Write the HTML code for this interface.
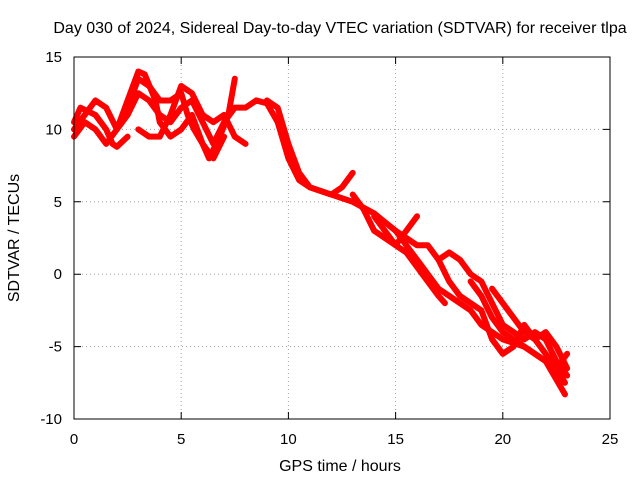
<!DOCTYPE html>
<html><head><meta charset="utf-8"><style>
body{margin:0;background:#fff;}
svg{display:block;font-family:"Liberation Sans",sans-serif;}
</style></head><body>
<svg id="chart" width="640" height="480">
<text x="340" y="33" text-anchor="middle" font-size="16">Day 030 of 2024, Sidereal Day-to-day VTEC variation (SDTVAR) for receiver tlpa</text>
<text x="340" y="471" text-anchor="middle" font-size="16">GPS time / hours</text>
<text transform="translate(19,238) rotate(-90)" text-anchor="middle" font-size="16">SDTVAR / TECUs</text>
<g id="grid"></g><g id="ticks"></g><g id="series"></g>
<rect x="74" y="57" width="536" height="362" fill="none" stroke="#000" stroke-width="1"/>
</svg>
<script>
const xTicks=[0,5,10,15,20,25];
const yTicks=[-10,-5,0,5,10,15];
const s1=[[0,10],[0.5,11],[1,12],[1.5,11.5],[2,10],[2.5,11],[3,12.5],[3.5,12],[4,11],[4.5,10.5],[5,11.5],[5.5,12],[6,10.5],[6.5,9],[7,10.5],[7.5,11.5],[8,11.5],[8.5,12],[9,11.8],[9.5,10.5],[10,8],[10.5,6.5],[11,6],[12,5.5],[13,5],[14,4.2],[15,3],[15.5,2],[16,1],[16.5,0],[17,-1],[17.5,-1.5],[18,-2],[18.5,-2.5],[19,-3.5],[20,-4.5],[21,-5],[22,-6],[22.9,-8.3]];
const s2=[[0,9.5],[0.5,10.5],[1,10],[1.5,9],[2,10],[2.5,12],[3,14],[3.3,13.8],[3.8,12],[4,10.5],[4.5,9.5],[5,10],[5.5,11],[6,9],[6.3,8],[6.8,9.5],[7.2,11],[7.5,13.5]];
const s3=[[3,10],[3.5,9.5],[4,9.5],[4.5,11],[5,13],[5.5,12.5],[6,11],[6.5,10.5],[7,11],[7.5,9.5],[8,9]];
const s4=[[2.5,11.5],[3,13.5],[3.5,13],[4,12],[4.5,12],[5,12.5],[5.3,11],[5.6,10],[6,9],[6.5,8],[7,9.5]];
const s5=[[0,10.5],[0.3,11.5],[1,11],[1.5,10],[1.8,9],[2,8.8],[2.5,9.5]];
const s6=[[9,12],[9.5,11.5],[10,9],[10.5,7],[11,6],[12,5.5],[12.5,6],[13,7]];
const s7=[[13,5.5],[13.5,4.5],[14,3],[14.5,2.5],[15,2],[15.5,3],[16,4]];
const s8=[[14,4],[15,2],[15.5,1.5],[16,0.5],[16.5,-0.5],[17,-1.5],[17.3,-2]];
const s9=[[15,3],[16,2],[16.5,2],[17,1],[17.5,1.5],[18,1],[18.5,0],[19,-0.5],[19.5,-2],[20,-3.5],[20.5,-4],[21,-4.5],[21.5,-4],[22,-4.5],[22.5,-6],[23,-7]];
const s10=[[17,1],[17.5,-0.5],[18,-1.5],[18.5,-2],[19,-2.5],[19.5,-4.5],[20,-5.5],[20.5,-5],[21,-3.5],[21.5,-4.5],[22,-5.5],[22.5,-6.5],[23,-5.5]];
const s11=[[18.5,-0.5],[19,-1.5],[19.5,-3],[20,-4],[20.5,-4.5],[21,-5],[21.5,-5.5],[22,-6],[22.5,-6.5],[22.9,-7.5]];
const s12=[[19.5,-1],[20,-2],[20.5,-3],[21,-4],[21.5,-4.5],[22,-4],[22.5,-5],[23,-6.5]];
const allSeries=[s1,s2,s3,s4,s5,s6,s7,s8,s9,s10,s11,s12];
const X=v=>74+v*(536/25);
const Y=v=>419-(v+10)*(362/25);
const NS='http://www.w3.org/2000/svg';
function mk(tag,attrs,parent){const e=document.createElementNS(NS,tag);for(const k in attrs)e.setAttribute(k,attrs[k]);parent.appendChild(e);return e;}
const grid=document.getElementById('grid'),ticks=document.getElementById('ticks'),ser=document.getElementById('series');
xTicks.forEach(t=>{
 const g=mk('line',{x1:X(t),x2:X(t),y1:57,y2:419,stroke:'#a0a0a0','stroke-dasharray':'1,3'},grid);
 
 
 const tk=mk('path',{d:`M${X(t)},419v-7M${X(t)},57v7`,stroke:'#000'},ticks);
 
 
 const tx=mk('text',{x:X(t),y:444,'text-anchor':'middle','font-size':15},ticks);
 tx.textContent=t;
 
 
});
yTicks.forEach(t=>{
 const g=mk('line',{x1:74,x2:610,y1:Y(t),y2:Y(t),stroke:'#a0a0a0','stroke-dasharray':'1,3'},grid);
 
 
 const tk=mk('path',{d:`M74,${Y(t)}h7M610,${Y(t)}h-7`,stroke:'#000'},ticks);
 
 
 const tx=mk('text',{x:62,y:Y(t)+5,'text-anchor':'end','font-size':15},ticks);
 tx.textContent=t;
 
 
});
allSeries.forEach((s,i)=>{
 const p=mk('polyline',{points:s.map(d=>X(d[0])+','+Y(d[1])).join(' '),fill:'none',stroke:'#ff0000','stroke-width':6,'stroke-linejoin':'round','stroke-linecap':'round'},ser);
 
 
});
</script>
</body></html>
